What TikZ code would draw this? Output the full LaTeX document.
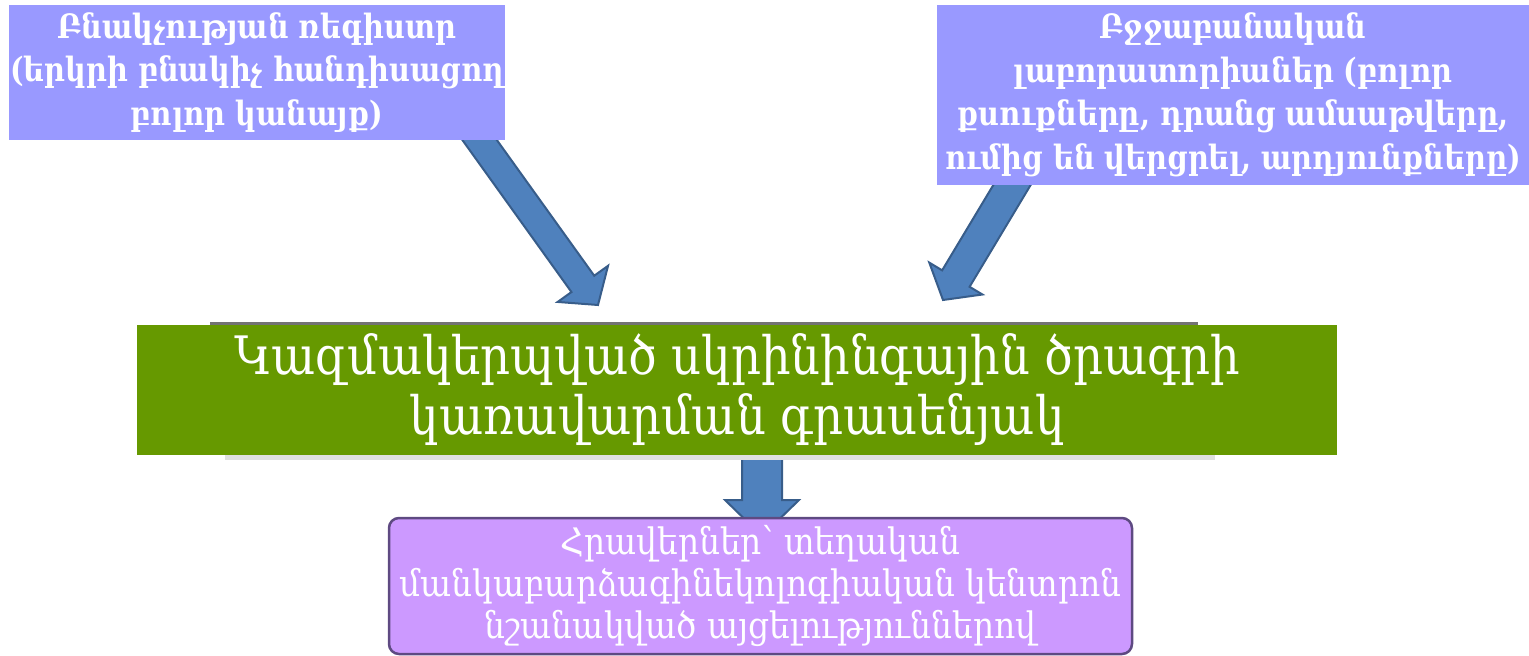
\documentclass[tikz,border=0pt]{standalone}
\usepackage{fontspec}
\setmainfont{DejaVu Serif}
\newfontfamily\armfont[FakeStretch=0.88]{DejaVu Serif}
\newfontfamily\armfontt[FakeStretch=0.86]{DejaVu Serif}
\newfontfamily\armfontw[FakeStretch=0.90]{DejaVu Serif}
\usetikzlibrary{calc}
\definecolor{boxblue}{HTML}{9999FF}
\definecolor{boxgreen}{HTML}{669900}
\definecolor{boxviolet}{HTML}{CC99FF}
\definecolor{violetedge}{HTML}{5E4A82}
\definecolor{arrowfill}{HTML}{4F81BD}
\definecolor{arrowedge}{HTML}{385D8A}
\tikzset{
  topbox/.style={fill=boxblue, text=white, inner sep=0pt, align=center,
    font=\armfontt\bfseries\fontsize{33.5}{43.5}\selectfont},
  centerbox/.style={fill=boxgreen, text=white, inner sep=0pt, align=center,
    font=\armfont\fontsize{53}{60}\selectfont},
  bottombox/.style={fill=boxviolet, draw=violetedge, line width=2.5pt,
    rounded corners=10pt, text=white, inner sep=0pt, align=center,
    font=\armfontw\fontsize{36.5}{42}\selectfont},
  fatarrow/.style={fill=arrowfill, draw=arrowedge, line width=2pt, line join=miter}
}
% #1 start, #2 tip, #3 shaft half width, #4 head half width, #5 head length
\newcommand{\fatarrowdraw}[5]{%
  \coordinate (fa-b) at ($(#2)!#5!(#1)$);
  \draw[fatarrow]
    ($(#1)!#3!90:(#2)$) -- ($(fa-b)!#3!90:(#2)$) -- ($(fa-b)!#4!90:(#2)$)
    -- (#2) -- ($(fa-b)!#4!-90:(#2)$) -- ($(fa-b)!#3!-90:(#2)$)
    -- ($(#1)!#3!-90:(#2)$) -- cycle;
}
\begin{document}
\begin{tikzpicture}[x=1pt,y=-1pt]
\useasboundingbox (0,0) rectangle (1529,656);
% connector end points
\coordinate (a1s) at (471,128);
\coordinate (a1t) at (598,305);
\coordinate (a2s) at (1018,175);
\coordinate (a2t) at (943,300);
\coordinate (a3s) at (762,440);
\coordinate (a3t) at (762,536);
% arrows (behind boxes)
\fatarrowdraw{a1s}{a1t}{14pt}{31pt}{26pt}
\fatarrowdraw{a2s}{a2t}{16pt}{31pt}{25pt}
\fatarrowdraw{a3s}{a3t}{20pt}{37pt}{36pt}
% shadow of centre box
\fill[black!55] (210,321.5) rectangle (1198,330);
\fill[black!12] (225,452) rectangle (1215,460);
% boxes
\node[topbox, minimum width=496pt, minimum height=135pt] (pop) at (257,72.5)
  {Բնակչության ռեգիստր\\(երկրի բնակիչ հանդիսացող\\բոլոր կանայք)};
\node[topbox, minimum width=592pt, minimum height=180pt] (lab) at (1233,95)
  {Բջջաբանական\\լաբորատորիաներ (բոլոր\\քսուքները, դրանց ամսաթվերը,\\ումից են վերցրել, արդյունքները)};
\node[centerbox, minimum width=1200pt, minimum height=130pt] (office) at (737,390)
  {Կազմակերպված սկրինինգային ծրագրի\\կառավարման գրասենյակ};
\node[bottombox, minimum width=743pt, minimum height=136pt] (inv) at (760.5,586)
  {Հրավերներ՝ տեղական\\մանկաբարձագինեկոլոգիական կենտրոն\\նշանակված այցելություններով};
\end{tikzpicture}
\end{document}
